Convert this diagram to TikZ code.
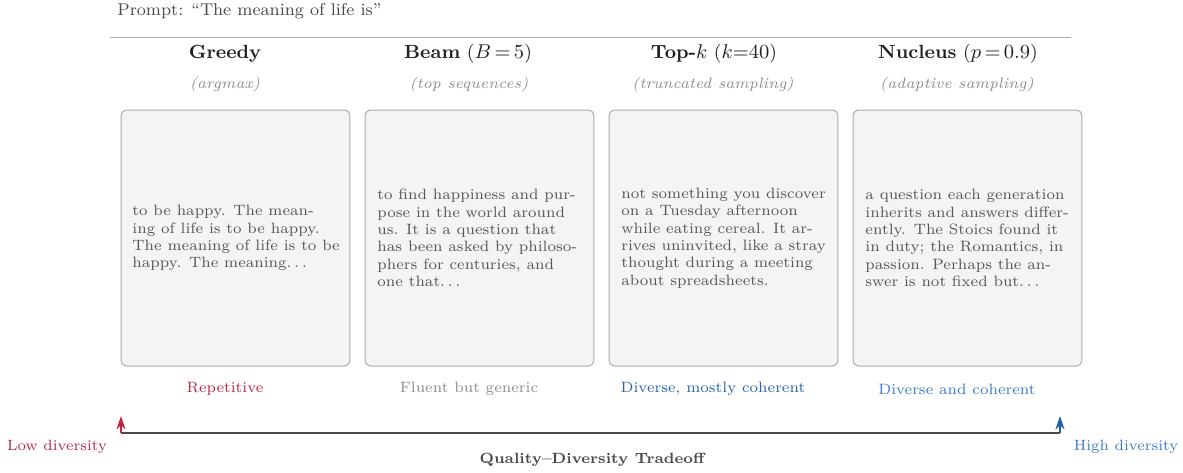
\documentclass[tikz,border=0pt]{standalone}
\usetikzlibrary{arrows.meta}
\definecolor{bodygray}{HTML}{555555}
\definecolor{subgray}{HTML}{8C8C8C}
\definecolor{boxfill}{HTML}{F4F4F4}
\definecolor{boxline}{HTML}{ABABAB}
\definecolor{rulegray}{HTML}{AAAAAA}
\definecolor{axisgray}{HTML}{4A4A4A}
\definecolor{lowred}{HTML}{B8283F}
\definecolor{midblue}{HTML}{2A62A8}
\definecolor{hiblue}{HTML}{3A7BC8}
\definecolor{arrblue}{HTML}{1F5FA8}
\definecolor{titlegray}{HTML}{222222}
\newcommand\mydots{.\kern1.3pt.\kern1.3pt.}
\begin{document}
\begin{tikzpicture}[x=0.45pt,y=-0.45pt,
  boxnode/.style={draw=boxline, line width=0.45pt, fill=boxfill, rounded corners=2.7pt,
    minimum width=103pt, minimum height=115.2pt, inner sep=0pt},
  boxtext/.style={anchor=west, inner sep=0pt, align=left,
    font=\fontsize{6.75}{7.8}\selectfont, text=bodygray},
  titlenode/.style={font=\fontsize{8.6}{10}\selectfont, text=titlegray, inner sep=0pt},
  subnode/.style={font=\fontsize{6.8}{8}\selectfont\itshape, text=subgray, inner sep=0pt},
  labnode/.style={font=\fontsize{6.75}{8}\selectfont, inner sep=0pt},
  endlab/.style={font=\fontsize{6.7}{8}\selectfont, inner sep=0pt},
  uparrow/.style={line width=0.9pt, -{Stealth[length=6pt,width=4pt]}}
]
\useasboundingbox (0,0) rectangle (1183,472);
% prompt and rule
\node[anchor=west, inner sep=0pt, font=\fontsize{7.7}{9.2}\selectfont, text=axisgray] (prompt) at (117,11) {Prompt: ``The meaning of life is''};
\coordinate (ruleL) at (110,37);
\coordinate (ruleR) at (1071,37);
\draw[rulegray, line width=0.45pt] (ruleL) -- (ruleR);
% titles
\node[titlenode] (t1) at (225,54) {\textbf{Greedy}};
\node[titlenode] (t2) at (468,54) {\textbf{Beam} ($B\,{=}\,5$)};
\node[titlenode] (t3) at (714,54) {\textbf{Top-}$k$ ($k{=}40$)};
\node[titlenode] (t4) at (958,54) {\textbf{Nucleus} ($p\,{=}\,0.9$)};
% subtitles
\node[subnode] (s1) at (225,85) {(argmax)};
\node[subnode] (s2) at (469,85) {(top sequences)};
\node[subnode] (s3) at (713,85) {(truncated sampling)};
\node[subnode] (s4) at (957,85) {(adaptive sampling)};
% boxes
\node[boxnode] (b1) at (235.5,238) {};
\node[boxnode] (b2) at (479.5,238) {};
\node[boxnode] (b3) at (723.5,238) {};
\node[boxnode] (b4) at (967.5,238) {};
\node[boxtext] (x1) at (132,238) {to be happy. The mean-\\ing of life is to be happy.\\The meaning of life is to be\\happy. The meaning\mydots};
\node[boxtext] (x2) at (377,238) {to find happiness and pur-\\pose in the world around\\us. It is a question that\\has been asked by philoso-\\phers for centuries, and\\one that\mydots};
\node[boxtext] (x3) at (621,238) {not something you discover\\on a Tuesday afternoon\\while eating cereal. It ar-\\rives uninvited, like a stray\\thought during a meeting\\about spreadsheets.};
\node[boxtext] (x4) at (865,238) {a question each generation\\inherits and answers differ-\\ently. The Stoics found it\\in duty; the Romantics, in\\passion. Perhaps the an-\\swer is not fixed but\mydots};
% labels
\node[labnode, text=lowred] (l1) at (225,389) {Repetitive};
\node[labnode, text=subgray] (l2) at (469,389) {Fluent but generic};
\node[labnode, text=midblue] (l3) at (713,389) {Diverse, mostly coherent};
\node[labnode, text=hiblue] (l4) at (957,389) {Diverse and coherent};
% axis
\coordinate (lowend) at (121,433);
\coordinate (highend) at (1060,433);
\coordinate (lowtip) at (121,416);
\coordinate (hightip) at (1060,416);
\draw[axisgray, line width=0.9pt] (lowend) -- (highend);
\draw[uparrow, lowred] (lowend) -- (lowtip);
\draw[uparrow, arrblue] (highend) -- (hightip);
\node[endlab, text=lowred] (lowlab) at (57,447) {Low diversity};
\node[endlab, text=hiblue] (highlab) at (1126,447) {High diversity};
\node[inner sep=0pt, font=\fontsize{6.7}{8}\selectfont\bfseries, text=axisgray] (axislab) at (592,460) {Quality--Diversity Tradeoff};
\end{tikzpicture}
\end{document}
